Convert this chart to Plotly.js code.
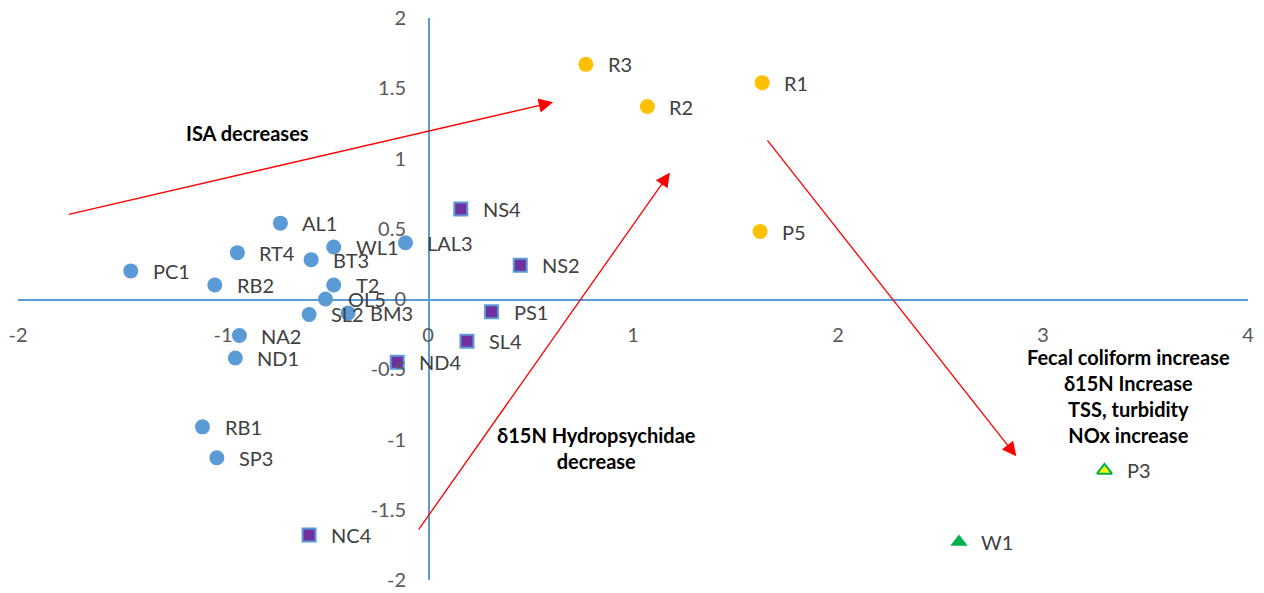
<!DOCTYPE html>
<html>
<head>
<meta charset="utf-8">
<script src="https://cdn.plot.ly/plotly-3.0.1.min.js"></script>
<style>html,body{margin:0;padding:0;background:#fff;}#chart{width:1264px;height:593px;}</style>
</head>
<body>
<div id="chart"></div>
<script>
// ---- data ----
const blueLabels = ["AL1","RT4","PC1","RB2","BT3","WL1","T2","OL5","SL2","BM3","NA2","ND1","LAL3","RB1","SP3"];
const blueX = [-0.72,-0.93,-1.45,-1.04,-0.57,-0.46,-0.46,-0.50,-0.58,-0.39,-0.92,-0.94,-0.11,-1.10,-1.03];
const blueY = [0.54,0.33,0.20,0.10,0.28,0.37,0.10,0.00,-0.11,-0.10,-0.26,-0.42,0.40,-0.91,-1.13];

const purpleLabels = ["NS4","NS2","PS1","SL4","ND4","NC4"];
const purpleX = [0.16,0.45,0.31,0.19,-0.15,-0.58];
const purpleY = [0.64,0.24,-0.09,-0.30,-0.45,-1.68];

const orangeLabels = ["R3","R2","R1","P5"];
const orangeX = [0.77,1.07,1.63,1.62];
const orangeY = [1.67,1.37,1.54,0.48];

const yellowLabels = ["P3"];
const yellowX = [3.30];
const yellowY = [-1.22];

const greenLabels = ["W1"];
const greenX = [2.59];
const greenY = [-1.73];

const xTicks = [-2,-1,0,1,2,3,4];
const xTickText = ["-2","-1","0","1","2","3","4"];
const yTicks = [-2,-1.5,-1,-0.5,0,0.5,1,1.5,2];
const yTickText = ["-2","-1.5","-1","-0.5","0","0.5","1","1.5","2"];

// arrows: [tailX, tailY, headX, headY]
const arrowTailX = [-1.76,-0.05,1.65];
const arrowTailY = [0.60,-1.65,1.14];
const arrowHeadX = [0.61,1.18,2.87];
const arrowHeadY = [1.40,0.90,-1.12];

const noteTexts = ["<b>ISA decreases</b>","<b>δ15N Hydropsychidae<br>decrease</b>","<b>Fecal coliform increase<br>δ15N Increase<br>TSS, turbidity<br>NOx increase</b>"];
const noteX = [-0.88,0.82,3.415];
const noteY = [1.18,-1.06,-0.69];

// ---- traces ----
const FONT = "Lato, 'Liberation Sans', sans-serif";
const traces = [
  {x: blueX, y: blueY, mode: "markers", type: "scatter",
   marker: {symbol: "circle", size: 15, color: "#5B9BD5"}},
  {x: purpleX, y: purpleY, mode: "markers", type: "scatter",
   marker: {symbol: "square", size: 13, color: "#7030A0", line: {color: "#5B9BD5", width: 2}}},
  {x: orangeX, y: orangeY, mode: "markers", type: "scatter",
   marker: {symbol: "circle", size: 15, color: "#FFC000"}},
  {x: yellowX, y: yellowY, mode: "markers", type: "scatter",
   marker: {symbol: "triangle-up", size: 13, color: "#FFFF00", line: {color: "#00B050", width: 2}}},
  {x: greenX, y: greenY, mode: "markers", type: "scatter",
   marker: {symbol: "triangle-up", size: 15, color: "#00B050"}}
];

const annotations = [];
function addLabels(labels, xs, ys) {
  labels.forEach((t, i) => {
    annotations.push({x: xs[i], y: ys[i], xref: "x", yref: "y", text: t, showarrow: false,
      xanchor: "left", yanchor: "middle", xshift: 20,
      font: {family: FONT, size: 20, color: "#404040"}});
  });
}
addLabels(blueLabels, blueX, blueY);
addLabels(purpleLabels, purpleX, purpleY);
addLabels(orangeLabels, orangeX, orangeY);
addLabels(yellowLabels, yellowX, yellowY);
addLabels(greenLabels, greenX, greenY);

arrowHeadX.forEach((hx, i) => {
  annotations.push({x: hx, y: arrowHeadY[i], ax: arrowTailX[i], ay: arrowTailY[i],
    xref: "x", yref: "y", axref: "x", ayref: "y", text: "", showarrow: true,
    arrowhead: 2, arrowsize: 2.2, arrowwidth: 1.3, arrowcolor: "#FF0000", standoff: 0, startstandoff: 0});
});

noteTexts.forEach((t, i) => {
  annotations.push({x: noteX[i], y: noteY[i], xref: "x", yref: "y", text: t, showarrow: false,
    xanchor: "center", yanchor: "middle", align: "center",
    font: {family: FONT, size: 20, color: "#000000"}});
});

const layout = {
  width: 1264, height: 593,
  margin: {l: 18, r: 16, t: 18, b: 13, pad: 0},
  paper_bgcolor: "#ffffff", plot_bgcolor: "#ffffff",
  showlegend: false,
  font: {family: FONT, size: 20, color: "#595959"},
  xaxis: {range: [-2, 4], anchor: "free", position: 0.5, showgrid: false, zeroline: false,
    showline: true, linecolor: "#5B9BD5", linewidth: 1.5,
    tickmode: "array", tickvals: xTicks, ticktext: xTickText, ticks: "",
    ticklabelstandoff: 17, tickfont: {family: FONT, size: 20, color: "#595959"}},
  yaxis: {range: [-2, 2], anchor: "free", position: 1/3, showgrid: false, zeroline: false,
    showline: true, linecolor: "#5B9BD5", linewidth: 1.5,
    tickmode: "array", tickvals: yTicks, ticktext: yTickText, ticks: "",
    ticklabelstandoff: 18, tickfont: {family: FONT, size: 20, color: "#595959"}},
  annotations: annotations
};

Plotly.newPlot("chart", traces, layout, {displayModeBar: false, staticPlot: true});
</script>
</body>
</html>
